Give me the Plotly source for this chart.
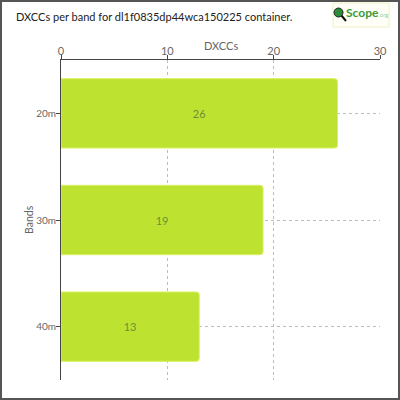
import plotly.graph_objects as go

bands = ["20m", "30m", "40m"]
dxccs = [26, 19, 13]
x_ticks = [0, 10, 20, 30]

W, H = 400, 400
ML, MR, MT, MB = 61, 20, 60, 20
PW, PH = W - ML - MR, H - MT - MB
FONT = "Lato"


def px_x(p):
    return (p - ML) / PW


def px_y(p):
    return 1 - (p - MT) / PH


fig = go.Figure(
    go.Bar(
        x=dxccs,
        y=bands,
        orientation="h",
        width=0.65,
        marker=dict(color="#bde22f", line=dict(color="#d8f060", width=1), cornerradius=3),
        text=dxccs,
        textposition="inside",
        insidetextanchor="middle",
        textfont=dict(color="#6f8f3a", size=11),
    )
)

fig.update_xaxes(
    side="top",
    range=[0, 30],
    tickvals=x_ticks,
    tickfont=dict(size=11, color="#666"),
    ticklabelstandoff=-4,
    showline=True,
    linecolor="#444",
    linewidth=1,
    ticks="outside",
    ticklen=4,
    tickcolor="#444",
    showgrid=True,
    gridcolor="#bbb",
    griddash="3px,3px",
    zeroline=False,
)

fig.update_yaxes(
    autorange="reversed",
    tickfont=dict(size=10, color="#666"),
    ticklabelstandoff=-2,
    showline=True,
    linecolor="#444",
    linewidth=1,
    ticks="outside",
    ticklen=4,
    tickcolor="#444",
    showgrid=True,
    gridcolor="#bbb",
    griddash="3px,3px",
)

# axis titles
fig.add_annotation(
    xref="paper", yref="paper", x=0.5, y=px_y(45),
    text="DXCCs", showarrow=False, xanchor="center", yanchor="middle",
    font=dict(size=11, color="#666"),
)
fig.add_annotation(
    xref="paper", yref="paper", x=px_x(29), y=0.5,
    text="Bands", showarrow=False, xanchor="center", yanchor="middle",
    textangle=-90, font=dict(size=10.5, color="#666"),
)

# page border
fig.add_shape(
    type="rect", xref="paper", yref="paper",
    x0=px_x(1), x1=px_x(399), y0=px_y(1), y1=px_y(399),
    line=dict(color="#555", width=2),
)

# logo
fig.add_shape(
    type="rect", xref="paper", yref="paper",
    x0=px_x(333), x1=px_x(389), y0=px_y(3), y1=px_y(27),
    line=dict(color="#f0f0c0", width=1), fillcolor="#fffff8",
)
fig.add_shape(
    type="line", xref="paper", yref="paper",
    x0=px_x(341), x1=px_x(346), y0=px_y(15), y1=px_y(21),
    line=dict(color="#111", width=2),
)
fig.add_shape(
    type="circle", xref="paper", yref="paper",
    x0=px_x(334), x1=px_x(343), y0=px_y(8), y1=px_y(17),
    line=dict(color="#222", width=1), fillcolor="#2e8b3a",
)
fig.add_annotation(
    xref="paper", yref="paper", x=px_x(344), y=px_y(13),
    text="<b>Scope</b><span style='font-size:6px;color:#9c9'>.org</span>",
    showarrow=False, xanchor="left", yanchor="middle",
    font=dict(size=12, color="#3a9a3a"),
)

fig.update_layout(
    width=W,
    height=H,
    margin=dict(l=ML, r=MR, t=MT, b=MB),
    paper_bgcolor="white",
    plot_bgcolor="white",
    font=dict(family=FONT, color="#666"),
    title=dict(
        text="DXCCs per band for dl1f0835dp44wca150225 container.",
        x=16 / W, xanchor="left", y=1 - 17 / H, yanchor="middle",
        font=dict(size=11, color="#222"),
    ),
    showlegend=False,
    bargap=0.35,
)

fig.write_html(
    "out.html",
    config={"displayModeBar": False},
    post_script="document.body.style.margin='0';",
)
